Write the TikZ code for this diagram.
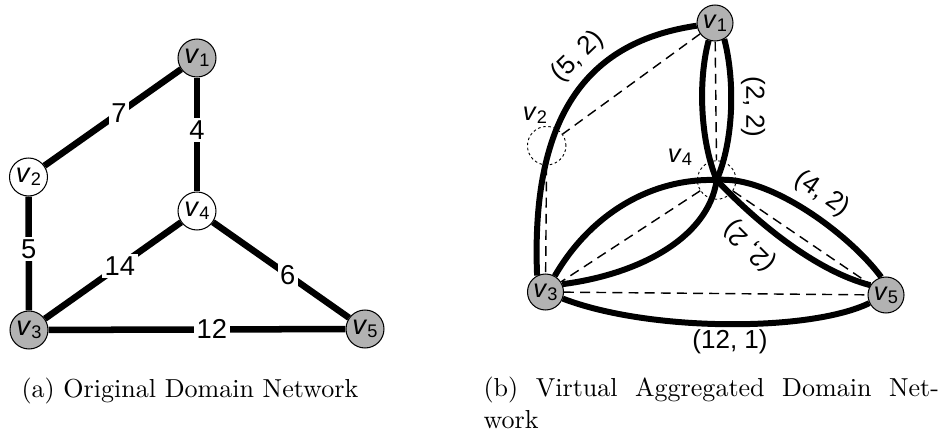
\documentclass[tikz,border=0pt]{standalone}
\usepackage{fontspec}
\newfontfamily\lab{Liberation Sans}
\newcommand{\vn}[1]{\textit{v}\raisebox{-0.12em}{\fontsize{7}{8}\selectfont #1}}

\begin{document}
\begin{tikzpicture}[x=0.0135cm,y=-0.0135cm]
  \tikzstyle{vtx}=[circle,draw,line width=0.4pt,fill=gray!60,minimum size=0.513cm,inner sep=0pt,font=\lab\fontsize{10.5}{12}\selectfont]
  \tikzstyle{vtxw}=[vtx,fill=white]
  \tikzstyle{vtxs}=[vtx,minimum size=0.486cm,font=\lab\fontsize{9.8}{11}\selectfont]
  \tikzstyle{ghost}=[circle,draw,line width=0.35pt,dash pattern=on 1pt off 1pt,minimum size=0.52cm,inner sep=0pt]
  \tikzstyle{link}=[line width=2.5pt]
  \tikzstyle{agg}=[line width=2.3pt]
  \tikzstyle{virt}=[line width=0.55pt,dash pattern=on 3.8pt off 2.4pt]
  \tikzstyle{wlbl}=[fill=white,inner sep=1pt,font=\lab\fontsize{10.5}{12}\selectfont]
  \tikzstyle{rlbl}=[inner sep=0pt,font=\lab\fontsize{10}{12}\selectfont]
  \useasboundingbox (0,0) rectangle (949,436);

  % (a) original network
  \node[vtx] (a1) at (197,58) {\vn{1}};
  \node[vtxw] (a2) at (28.5,177) {\vn{2}};
  \node[vtx] (a3) at (29,330) {\vn{3}};
  \node[vtxw] (a4) at (197,211) {\vn{4}};
  \node[vtx] (a5) at (365,329) {\vn{5}};

  \draw[link] (a2) -- node[wlbl,pos=0.545] (w7) {7} (a1);
  \draw[link] (a1) -- node[wlbl,pos=0.46] (w4) {4} (a4);
  \draw[link] (a2) -- node[wlbl,pos=0.46] (w5) {5} (a3);
  \draw[link] (a3) -- node[wlbl,pos=0.55] (w14) {14} (a4);
  \draw[link] (a4) -- node[wlbl,pos=0.55] (w6) {6} (a5);
  \draw[link] (a3) -- node[wlbl,pos=0.55] (w12) {12} (a5);

  % (b) virtual aggregated network
  \node[vtxs] (b1) at (715,23) {\vn{1}};
  \node[ghost] (b2) at (546.7,145.7) {};
  \node[vtxs] (b3) at (545.5,292) {\vn{3}};
  \node[ghost] (b4) at (716.7,180) {};
  \node[vtxs] (b5) at (886,295) {\vn{5}};
  \node[rlbl,font=\lab\fontsize{9.8}{11}\selectfont] (t2) at (535,115) {\vn{2}};
  \node[rlbl,font=\lab\fontsize{9.8}{11}\selectfont] (t4) at (680,157) {\vn{4}};

  \draw[virt] (b1) -- (b2);
  \draw[virt] (b2) -- (b3);
  \draw[virt] (b1) -- (b4);
  \draw[virt] (b4) -- (b3);
  \draw[virt] (b4) -- (b5);
  \draw[virt] (b3) -- (b5);

  \draw[agg] (b3.117) .. controls (530,100) and (600,40) .. (b1);
  \draw[agg] (b1.-110) .. controls (698,80) and (700,140) .. (b4.center);
  \draw[agg] (b1.-60) .. controls (735,80) and (734,140) .. (b4.center);
  \draw[agg] (b4.center) .. controls (650,178) and (590,215) .. (b3);
  \draw[agg] (b4.center) .. controls (708,240) and (635,275) .. (b3.25);
  \draw[agg] (b4.center) .. controls (770,175) and (850,235) .. (b5.105);
  \draw[agg] (b4.center) .. controls (740,205) and (805,268) .. (b5.148);
  \draw[agg] (b3) .. controls (650,332) and (810,332) .. (b5);

  \node[rlbl,rotate=44] (l52) at (578,57) {(5, 2)};
  \node[rlbl,rotate=-90] (l22) at (753,107) {(2, 2)};
  \node[rlbl,rotate=-35] (l42) at (822,194) {(4, 2)};
  \node[rlbl,rotate=135] (l22b) at (750,246) {(2, 2)};
  \node[rlbl] (l121) at (730,342) {(12, 1)};

  % captions
  \node[anchor=base west,inner sep=0pt] (capa) at (21,398) {(a) Original Domain Network};
  \node[anchor=base west,inner sep=0pt,text width=175pt,align=justify] (capb) at (483,397)
    {(b) Virtual Aggregated Domain Net-\linebreak work};
\end{tikzpicture}
\end{document}
